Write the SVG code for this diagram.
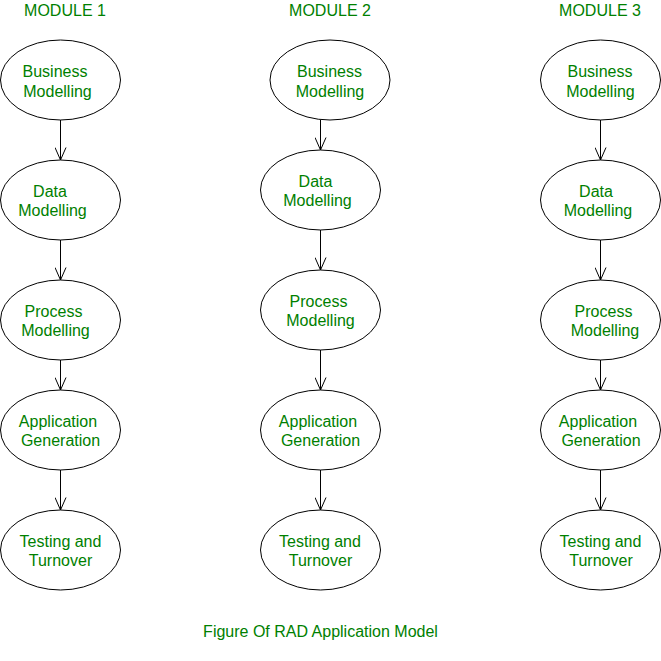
<svg xmlns="http://www.w3.org/2000/svg" width="661" height="661" viewBox="0 0 661 661">
<style>
.n ellipse{fill:#fff;stroke:#000;stroke-width:1}
text{font-family:"Liberation Sans",Arial,sans-serif;font-size:16px;fill:#008000;text-anchor:middle}
.c path{stroke:#000;stroke-width:1;fill:none}
</style>
<defs>
<marker id="arr" viewBox="0 0 14 12" markerWidth="14" markerHeight="12" refX="13" refY="6" orient="auto" markerUnits="userSpaceOnUse">
<path d="M0.5,0.5 L13,6 L0.5,11.5" fill="none" stroke="#000" stroke-width="1"/>
</marker>
</defs>
<rect width="661" height="661" fill="#fff"/>
<g id="titles">
<text x="65" y="16">MODULE 1</text>
<text x="330" y="16">MODULE 2</text>
<text x="600" y="16">MODULE 3</text>
</g>
<g class="c" id="connectors">
<path d="M60.5,120 V160" marker-end="url(#arr)"/>
<path d="M60.5,240 V280" marker-end="url(#arr)"/>
<path d="M60.5,360 V390" marker-end="url(#arr)"/>
<path d="M60.5,470 V510" marker-end="url(#arr)"/>
<path d="M320.5,120 V150" marker-end="url(#arr)"/>
<path d="M320.5,230 V270" marker-end="url(#arr)"/>
<path d="M320.5,350 V390" marker-end="url(#arr)"/>
<path d="M320.5,470 V510" marker-end="url(#arr)"/>
<path d="M600.5,120 V160" marker-end="url(#arr)"/>
<path d="M600.5,240 V280" marker-end="url(#arr)"/>
<path d="M600.5,360 V390" marker-end="url(#arr)"/>
<path d="M600.5,470 V510" marker-end="url(#arr)"/>
</g>
<g class="n" id="m1-business"><ellipse cx="60.5" cy="80" rx="60" ry="40"/><text x="55" y="77">Business</text><text x="57.5" y="96.5">Modelling</text></g>
<g class="n" id="m1-data"><ellipse cx="60.5" cy="200" rx="60" ry="40"/><text x="50" y="197">Data</text><text x="52.5" y="216">Modelling</text></g>
<g class="n" id="m1-process"><ellipse cx="60.5" cy="320" rx="60" ry="40"/><text x="53.5" y="317">Process</text><text x="55.5" y="336">Modelling</text></g>
<g class="n" id="m1-application"><ellipse cx="60.5" cy="430" rx="60" ry="40"/><text x="58" y="427">Application</text><text x="60.5" y="446">Generation</text></g>
<g class="n" id="m1-testing"><ellipse cx="60.5" cy="550" rx="60" ry="40"/><text x="60.5" y="547">Testing and</text><text x="60.5" y="566">Turnover</text></g>
<g class="n" id="m2-business"><ellipse cx="330" cy="80" rx="60" ry="40"/><text x="329.5" y="77">Business</text><text x="330" y="96.5">Modelling</text></g>
<g class="n" id="m2-data"><ellipse cx="320.5" cy="190" rx="60" ry="40"/><text x="315.5" y="187">Data</text><text x="317.5" y="206">Modelling</text></g>
<g class="n" id="m2-process"><ellipse cx="320.5" cy="310" rx="60" ry="40"/><text x="318.5" y="307">Process</text><text x="320.5" y="326">Modelling</text></g>
<g class="n" id="m2-application"><ellipse cx="320.5" cy="430" rx="60" ry="40"/><text x="318" y="427">Application</text><text x="320.5" y="446">Generation</text></g>
<g class="n" id="m2-testing"><ellipse cx="320.5" cy="550" rx="60" ry="40"/><text x="320" y="547">Testing and</text><text x="320.5" y="566">Turnover</text></g>
<g class="n" id="m3-business"><ellipse cx="600.5" cy="80" rx="60" ry="40"/><text x="600" y="77">Business</text><text x="600.5" y="96.5">Modelling</text></g>
<g class="n" id="m3-data"><ellipse cx="600.5" cy="200" rx="60" ry="40"/><text x="596" y="197">Data</text><text x="598" y="216">Modelling</text></g>
<g class="n" id="m3-process"><ellipse cx="600.5" cy="320" rx="60" ry="40"/><text x="603.5" y="317">Process</text><text x="605" y="336">Modelling</text></g>
<g class="n" id="m3-application"><ellipse cx="600.5" cy="430" rx="60" ry="40"/><text x="598" y="427">Application</text><text x="601" y="446">Generation</text></g>
<g class="n" id="m3-testing"><ellipse cx="600.5" cy="550" rx="60" ry="40"/><text x="600.5" y="547">Testing and</text><text x="601" y="566">Turnover</text></g>
<text x="320.5" y="637">Figure Of RAD Application Model</text>
</svg>
